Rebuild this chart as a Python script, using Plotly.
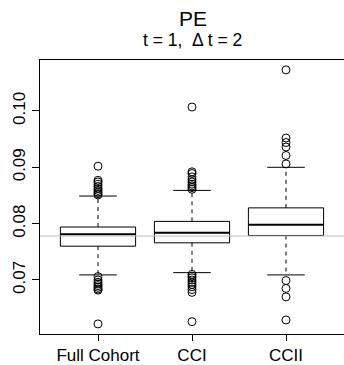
import plotly.graph_objects as go

# Box-plot summaries for the PE estimator, one entry per sampling design
groups = ["Full Cohort", "CCI", "CCII"]
positions = [1, 2, 3]
q1 = [0.0760, 0.0766, 0.0779]
median = [0.0781, 0.0784, 0.0798]
q3 = [0.0794, 0.0804, 0.0828]
whisker_low = [0.0709, 0.0713, 0.0709]
whisker_high = [0.0849, 0.0859, 0.0900]
outliers = [
    [0.0851, 0.0853, 0.0856, 0.0859, 0.0862, 0.0866, 0.0870, 0.0874, 0.0877, 0.0902,
     0.0706, 0.0700, 0.0696, 0.0693, 0.0690, 0.0687, 0.0684, 0.0682, 0.0622],
    [0.0861, 0.0864, 0.0867, 0.0870, 0.0874, 0.0878, 0.0883, 0.0889, 0.0892, 0.1007,
     0.0710, 0.0707, 0.0704, 0.0700, 0.0696, 0.0692, 0.0688, 0.0683, 0.0678, 0.0626],
    [0.0906, 0.0921, 0.0936, 0.0944, 0.0952, 0.1073,
     0.0699, 0.0685, 0.0670, 0.0629],
]
true_value = 0.0778
y_ticks = [0.07, 0.08, 0.09, 0.10]
y_tick_text = ["0.07", "0.08", "0.09", "0.10"]

BOX_HALF = 0.4
CAP_HALF = 0.2
FONT = "Liberation Sans, Arial, Helvetica, sans-serif"

fig = go.Figure()

for i, name in enumerate(groups):
    c = positions[i]
    # box outline
    fig.add_trace(go.Scatter(
        x=[c - BOX_HALF, c + BOX_HALF, c + BOX_HALF, c - BOX_HALF, c - BOX_HALF],
        y=[q1[i], q1[i], q3[i], q3[i], q1[i]],
        mode="lines", line=dict(color="black", width=1), hoverinfo="skip"))
    # median
    fig.add_trace(go.Scatter(
        x=[c - BOX_HALF, c + BOX_HALF], y=[median[i], median[i]],
        mode="lines", line=dict(color="black", width=2), hoverinfo="skip"))
    # dashed whiskers
    fig.add_trace(go.Scatter(
        x=[c, c, None, c, c],
        y=[q3[i], whisker_high[i], None, q1[i], whisker_low[i]],
        mode="lines", line=dict(color="black", width=1, dash="4px,4px"),
        hoverinfo="skip"))
    # whisker caps
    fig.add_trace(go.Scatter(
        x=[c - CAP_HALF, c + CAP_HALF, None, c - CAP_HALF, c + CAP_HALF],
        y=[whisker_high[i], whisker_high[i], None, whisker_low[i], whisker_low[i]],
        mode="lines", line=dict(color="black", width=1), hoverinfo="skip"))
    # outlying points
    fig.add_trace(go.Scatter(
        x=[c] * len(outliers[i]), y=outliers[i], mode="markers",
        marker=dict(symbol="circle-open", size=8, color="black",
                    line=dict(width=1, color="black")),
        hoverinfo="skip"))

# reference line at the true value
fig.add_shape(type="line", xref="paper", yref="y", x0=0, x1=1,
              y0=true_value, y1=true_value,
              line=dict(color="#bebebe", width=1), layer="above")

fig.add_annotation(text="PE", xref="paper", yref="paper", x=0.503, y=1.150,
                   showarrow=False, font=dict(family=FONT, size=21, color="black"),
                   xanchor="center", yanchor="middle")
fig.add_annotation(text="t = 1,  \u0394 t = 2", xref="paper", yref="paper",
                   x=0.503, y=1.073, showarrow=False,
                   font=dict(family=FONT, size=17.5, color="black"),
                   xanchor="center", yanchor="middle")

fig.update_layout(
    width=344, height=365,
    margin=dict(l=40, r=0, t=60, b=31),
    paper_bgcolor="white", plot_bgcolor="white",
    showlegend=False,
    font=dict(family=FONT, color="black"),
)
fig.update_xaxes(
    range=[0.383, 3.617], tickvals=positions, ticktext=groups,
    showgrid=False, zeroline=False, showline=True, linecolor="black", linewidth=1,
    mirror=True, ticks="outside", ticklen=6, tickcolor="black",
    tickfont=dict(family=FONT, size=17, color="black"),
)
fig.update_yaxes(
    range=[0.06041, 0.10905], tickvals=y_ticks, ticktext=y_tick_text,
    showgrid=False, zeroline=False, showline=True, linecolor="black", linewidth=1,
    mirror=False, ticks="outside", ticklen=7, tickcolor="black", tickangle=-90,
    tickfont=dict(family=FONT, size=17, color="black"),
)

fig.write_html("out.html")
